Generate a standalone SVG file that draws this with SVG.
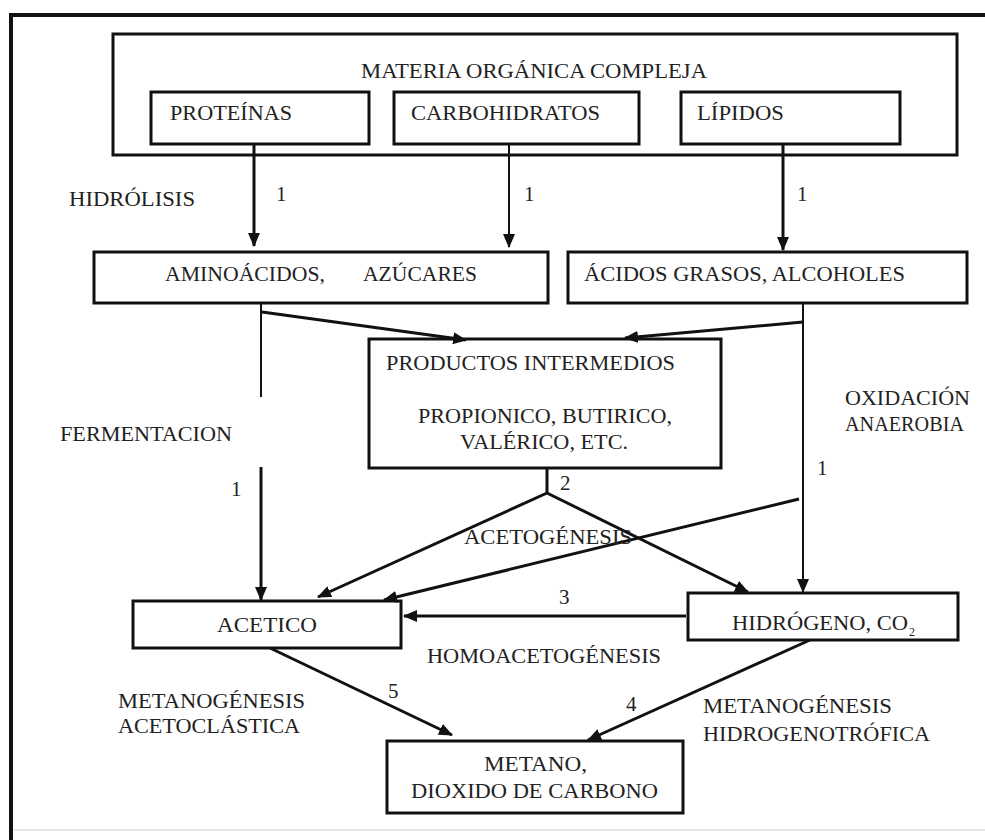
<svg xmlns="http://www.w3.org/2000/svg" width="985" height="840" viewBox="0 0 985 840">
  <style>
    .box { fill: none; stroke: #111; stroke-width: 3; }
    .t { font-family: "Liberation Serif", "Times New Roman", serif; font-size: 21px; fill: #222; }
    .n { font-family: "Liberation Serif", "Times New Roman", serif; font-size: 21px; fill: #222; }
    .ln { fill: none; stroke: #111; stroke-width: 3; }
    .thin { stroke-width: 2; }
  </style>
  <defs>
    <marker id="ah" viewBox="0 0 14 12" refX="13" refY="6" markerUnits="userSpaceOnUse" markerWidth="14" markerHeight="12" orient="auto">
      <path d="M0,0 L14,6 L0,12 Z" fill="#111"/>
    </marker>
  </defs>

  <rect width="985" height="840" fill="#fff"/>

  <!-- outer frame -->
  <path d="M11,840 V15 H985" fill="none" stroke="#111" stroke-width="4"/>
  <line x1="14" y1="830" x2="985" y2="830" stroke="#e6e6e6" stroke-width="2"/>

  <g id="materia">
    <rect class="box" x="113" y="34" width="844" height="121"/>
    <text class="t" x="361" y="78" textLength="346" lengthAdjust="spacingAndGlyphs">MATERIA ORGÁNICA COMPLEJA</text>
  </g>
  <g id="proteinas">
    <rect class="box" x="151" y="92" width="218" height="52"/>
    <text class="t" x="170" y="120" textLength="122" lengthAdjust="spacingAndGlyphs">PROTEÍNAS</text>
  </g>
  <g id="carbohidratos">
    <rect class="box" x="394" y="92" width="245" height="52"/>
    <text class="t" x="411" y="120" textLength="189" lengthAdjust="spacingAndGlyphs">CARBOHIDRATOS</text>
  </g>
  <g id="lipidos">
    <rect class="box" x="681" y="92" width="219" height="52"/>
    <text class="t" x="697" y="120" textLength="87" lengthAdjust="spacingAndGlyphs">LÍPIDOS</text>
  </g>

  <g id="aminoacidos">
    <rect class="box" x="94" y="252" width="454" height="51"/>
    <text class="t" x="165" y="281" textLength="160" lengthAdjust="spacingAndGlyphs">AMINOÁCIDOS,</text>
    <text class="t" x="363" y="281" textLength="114" lengthAdjust="spacingAndGlyphs">AZÚCARES</text>
  </g>
  <g id="acidos-grasos">
    <rect class="box" x="568" y="252" width="399" height="51"/>
    <text class="t" x="584" y="281" textLength="321" lengthAdjust="spacingAndGlyphs">ÁCIDOS GRASOS, ALCOHOLES</text>
  </g>

  <g id="productos">
    <rect class="box" x="369" y="339" width="352" height="129"/>
    <text class="t" x="386" y="370" textLength="289" lengthAdjust="spacingAndGlyphs">PRODUCTOS INTERMEDIOS</text>
    <text class="t" x="418" y="423" textLength="254" lengthAdjust="spacingAndGlyphs">PROPIONICO, BUTIRICO,</text>
    <text class="t" x="460" y="449" textLength="168" lengthAdjust="spacingAndGlyphs">VALÉRICO, ETC.</text>
  </g>

  <g id="acetico">
    <rect class="box" x="133" y="601" width="268" height="47"/>
    <text class="t" x="217" y="632" textLength="100" lengthAdjust="spacingAndGlyphs">ACETICO</text>
  </g>
  <g id="hidrogeno">
    <rect class="box" x="688" y="593" width="270" height="47"/>
    <text class="t" x="732" y="630" textLength="176" lengthAdjust="spacingAndGlyphs">HIDRÓGENO, CO</text>
    <text class="n" x="909" y="636" style="font-size:12px">2</text>
  </g>
  <g id="metano">
    <rect class="box" x="387" y="741" width="296" height="72"/>
    <text class="t" x="484" y="771" textLength="103" lengthAdjust="spacingAndGlyphs">METANO,</text>
    <text class="t" x="411" y="798" textLength="247" lengthAdjust="spacingAndGlyphs">DIOXIDO DE CARBONO</text>
  </g>

  <!-- connectors -->
  <g id="connectors">
    <line class="ln" x1="254" y1="144" x2="254" y2="246" marker-end="url(#ah)"/>
    <line class="ln thin" x1="509" y1="144" x2="509" y2="247" marker-end="url(#ah)"/>
    <line class="ln" x1="783" y1="144" x2="783" y2="250" stroke-width="2.5" marker-end="url(#ah)"/>

    <line class="ln thin" x1="261" y1="303" x2="261" y2="397"/>
    <line class="ln" x1="261" y1="467" x2="261" y2="600" marker-end="url(#ah)"/>
    <line class="ln" x1="262" y1="312" x2="466" y2="340" marker-end="url(#ah)"/>

    <line class="ln thin" x1="803" y1="303" x2="803" y2="592" marker-end="url(#ah)"/>
    <line class="ln" x1="803" y1="322" x2="625" y2="338" marker-end="url(#ah)"/>

    <line class="ln" x1="547" y1="468" x2="547" y2="493"/>
    <line class="ln" x1="547" y1="493" x2="318" y2="597" marker-end="url(#ah)"/>
    <line class="ln" x1="547" y1="493" x2="748" y2="592" marker-end="url(#ah)"/>
    <line class="ln" x1="799" y1="499" x2="384" y2="600" stroke-width="2.5" marker-end="url(#ah)"/>

    <line class="ln" x1="686" y1="616" x2="404" y2="616" marker-end="url(#ah)"/>
    <line class="ln" x1="270" y1="648" x2="452" y2="735" marker-end="url(#ah)"/>
    <line class="ln" x1="810" y1="640" x2="588" y2="740" marker-end="url(#ah)"/>
  </g>

  <!-- process labels -->
  <g id="labels">
    <text class="t" x="69" y="206" textLength="126" lengthAdjust="spacingAndGlyphs">HIDRÓLISIS</text>
    <text class="n" x="276" y="201">1</text>
    <text class="n" x="524" y="201">1</text>
    <text class="n" x="797" y="201">1</text>
    <text class="t" x="60" y="441" textLength="172" lengthAdjust="spacingAndGlyphs">FERMENTACION</text>
    <text class="n" x="231" y="496">1</text>
    <text class="t" x="845" y="405" textLength="125" lengthAdjust="spacingAndGlyphs">OXIDACIÓN</text>
    <text class="t" x="845" y="431" textLength="119" lengthAdjust="spacingAndGlyphs">ANAEROBIA</text>
    <text class="n" x="817" y="475">1</text>
    <text class="n" x="560" y="490">2</text>
    <text class="t" x="464" y="544" textLength="168" lengthAdjust="spacingAndGlyphs">ACETOGÉNESIS</text>
    <text class="n" x="559" y="604">3</text>
    <text class="t" x="427" y="663" textLength="234" lengthAdjust="spacingAndGlyphs">HOMOACETOGÉNESIS</text>
    <text class="t" x="118" y="708" textLength="187" lengthAdjust="spacingAndGlyphs">METANOGÉNESIS</text>
    <text class="t" x="118" y="733" textLength="182" lengthAdjust="spacingAndGlyphs">ACETOCLÁSTICA</text>
    <text class="n" x="388" y="698">5</text>
    <text class="n" x="626" y="711">4</text>
    <text class="t" x="703" y="713" textLength="189" lengthAdjust="spacingAndGlyphs">METANOGÉNESIS</text>
    <text class="t" x="703" y="741" textLength="227" lengthAdjust="spacingAndGlyphs">HIDROGENOTRÓFICA</text>
  </g>
</svg>
